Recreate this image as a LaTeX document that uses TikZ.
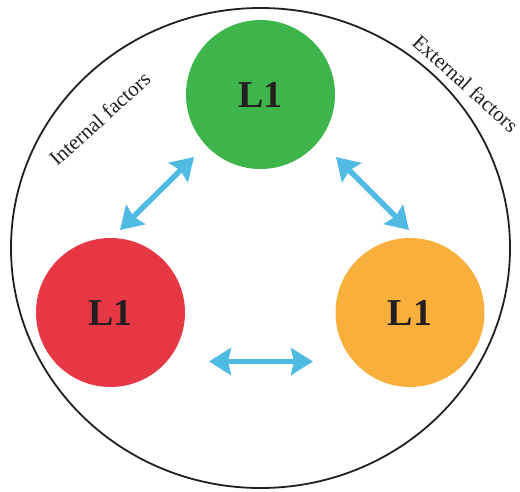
\documentclass[tikz,border=0pt]{standalone}
\usepackage{fontspec}
\setmainfont{Liberation Serif}
\usetikzlibrary{arrows.meta,shapes.geometric}
\definecolor{cgreen}{HTML}{3DB54A}
\definecolor{cred}{HTML}{E63744}
\definecolor{corange}{HTML}{F9AF3C}
\definecolor{cblue}{HTML}{4FBAE2}
\definecolor{ctext}{HTML}{231F20}
\begin{document}
\begin{tikzpicture}[x=1pt,y=-1pt,
  ball/.style={circle,minimum size=149pt,inner sep=0pt,text=ctext,
    font=\fontsize{38}{40}\selectfont\bfseries},
  dbl/.style={cblue,line width=5.5pt,
    {Stealth[length=22pt,width=27pt,inset=3pt]}-{Stealth[length=22pt,width=27pt,inset=3pt]}},
  lab/.style={font=\fontsize{21}{24}\selectfont,text=ctext,inner sep=0pt}]
\useasboundingbox (0,0) rectangle (520,491);
\node[draw=ctext,line width=1.8pt,ellipse,minimum width=499pt,minimum height=480pt,inner sep=0pt] (outer) at (260.5,248) {};
\node[ball,fill=cgreen] (g) at (260.5,94.5) {L1};
\node[ball,fill=cred] (r) at (110.5,312.5) {L1};
\node[ball,fill=corange] (o) at (410,312.5) {L1};
\coordinate (a1) at (194,157);
\coordinate (a2) at (120,230);
\coordinate (b1) at (336,157);
\coordinate (b2) at (409,230);
\coordinate (c1) at (209,361.5);
\coordinate (c2) at (313,361.5);
\draw[dbl] (a1) -- (a2);
\draw[dbl] (b1) -- (b2);
\draw[dbl] (c1) -- (c2);
\node[lab,anchor=base west,rotate=42] (il) at (57,167) {Internal factors};
\node[lab,anchor=base west,rotate=-42] (el) at (411,44) {External factors};
\end{tikzpicture}
\end{document}
